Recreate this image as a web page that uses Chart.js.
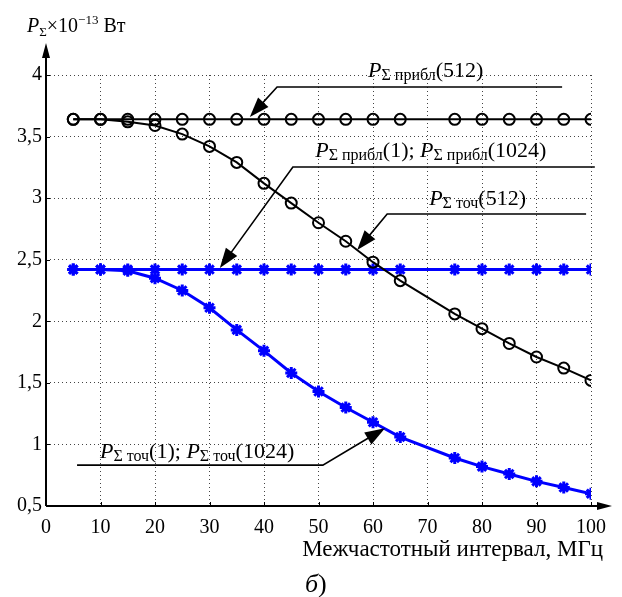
<!DOCTYPE html>
<html>
<head>
<meta charset="utf-8">
<script src="https://cdn.jsdelivr.net/npm/chart.js@4.4.0/dist/chart.umd.min.js"></script>
<style>
    html, body { margin: 0; padding: 0; background: #fff; }
</style>
</head>
<body>
<canvas id="powerChart" width="622" height="597"></canvas>
<script>
// Frequency spacing, MHz (no point at 70)
const spacing = [5, 10, 15, 20, 25, 30, 35, 40, 45, 50, 55, 60, 65, 75, 80, 85, 90, 95, 100];

// P_Σ x 1e-13 W
const approx512 = [3.64, 3.64, 3.64, 3.64, 3.64, 3.64, 3.64, 3.64, 3.64, 3.64, 3.64, 3.64, 3.64, 3.64, 3.64, 3.64, 3.64, 3.64, 3.64];
const approx1024 = [3.64, 3.64, 3.62, 3.59, 3.52, 3.42, 3.29, 3.12, 2.96, 2.80, 2.65, 2.48, 2.33, 2.06, 1.94, 1.82, 1.71, 1.62, 1.52];
const exact512 = [2.42, 2.42, 2.42, 2.42, 2.42, 2.42, 2.42, 2.42, 2.42, 2.42, 2.42, 2.42, 2.42, 2.42, 2.42, 2.42, 2.42, 2.42, 2.42];
const exact1024 = [2.42, 2.42, 2.41, 2.35, 2.25, 2.11, 1.93, 1.76, 1.58, 1.43, 1.30, 1.18, 1.06, 0.89, 0.82, 0.76, 0.70, 0.65, 0.60];

const xTicks = [0, 10, 20, 30, 40, 50, 60, 70, 80, 90, 100];
const yTicks = [0.5, 1, 1.5, 2, 2.5, 3, 3.5, 4];

const SERIF = '"Liberation Serif", "DejaVu Serif", serif';
const BIG = '22px ' + SERIF;
const BIG_I = 'italic 22px ' + SERIF;
const SUB = '16px ' + SERIF;

function pts(ys) {
    return spacing.map((x, i) => ({ x: x, y: ys[i] }));
}

// callout labels, leader lines in data units
function sumLabel(kind, n) {
    return [
        { t: 'P', f: BIG_I },
        { t: 'Σ ' + kind, f: SUB, dy: 3 },
        { t: '(' + n + ')', f: BIG }
    ];
}
const callouts = [
    { at: [59.1, 3.984], text: sumLabel('прибл', '512'),
      path: [[94.7, 3.903], [42.4, 3.903], [37.4, 3.659]] },
    { at: [49.4, 3.336], text: sumLabel('прибл', '1').concat([{ t: '; ', f: BIG }], sumLabel('прибл', '1024')),
      path: [[100.7, 3.253], [45.3, 3.253], [31.9, 2.432]] },
    { at: [70.3, 2.944], text: sumLabel('точ', '512'),
      path: [[99.1, 2.871], [62.6, 2.871], [57.1, 2.578]] },
    { at: [9.9, 0.889], text: sumLabel('точ', '1').concat([{ t: '; ', f: BIG }], sumLabel('точ', '1024')),
      path: [[5.7, 0.832], [50.8, 0.832], [62.2, 1.132]] }
];

function drawRich(ctx, parts, x, y) {
    let cx = x;
    parts.forEach(p => {
        ctx.font = p.f;
        ctx.fillText(p.t, cx, y + (p.dy || 0));
        cx += ctx.measureText(p.t).width;
    });
}

function arrowHead(ctx, fx, fy, tx, ty, len, half) {
    const a = Math.atan2(ty - fy, tx - fx);
    ctx.beginPath();
    ctx.moveTo(tx, ty);
    ctx.lineTo(tx - len * Math.cos(a) + half * Math.sin(a), ty - len * Math.sin(a) - half * Math.cos(a));
    ctx.lineTo(tx - len * Math.cos(a) - half * Math.sin(a), ty - len * Math.sin(a) + half * Math.cos(a));
    ctx.closePath();
    ctx.fill();
}

const decor = {
    id: 'decor',
    afterDraw(chart) {
        const ctx = chart.ctx;
        const area = chart.chartArea;
        const sx = chart.scales.x, sy = chart.scales.y;
        ctx.save();
        ctx.fillStyle = '#000';
        ctx.strokeStyle = '#000';

        // axes with arrows
        ctx.lineWidth = 2;
        ctx.beginPath();
        ctx.moveTo(area.left, area.bottom);
        ctx.lineTo(area.left, area.top - 26);
        ctx.moveTo(area.left, area.bottom);
        ctx.lineTo(area.right + 10, area.bottom);
        ctx.stroke();
        arrowHead(ctx, area.left, area.bottom, area.left, area.top - 32, 15, 4);
        arrowHead(ctx, area.left, area.bottom, area.right + 21, area.bottom, 15, 4);

        // small inward ticks
        ctx.lineWidth = 1;
        ctx.beginPath();
        xTicks.forEach(v => {
            const px = Math.round(sx.getPixelForValue(v)) + 0.5;
            ctx.moveTo(px, area.bottom);
            ctx.lineTo(px, area.bottom - 4);
        });
        yTicks.forEach(v => {
            const py = Math.round(sy.getPixelForValue(v)) + 0.5;
            ctx.moveTo(area.left, py);
            ctx.lineTo(area.left + 4, py);
        });
        ctx.stroke();

        // callouts
        ctx.textBaseline = 'alphabetic';
        ctx.textAlign = 'left';
        callouts.forEach(c => {
            drawRich(ctx, c.text, sx.getPixelForValue(c.at[0]), sy.getPixelForValue(c.at[1]));
            const p = c.path.map(q => [sx.getPixelForValue(q[0]), sy.getPixelForValue(q[1])]);
            ctx.lineWidth = 1.6;
            ctx.beginPath();
            ctx.moveTo(p[0][0], p[0][1]);
            for (let i = 1; i < p.length - 1; i++) ctx.lineTo(p[i][0], p[i][1]);
            const n = p.length;
            const a = Math.atan2(p[n - 1][1] - p[n - 2][1], p[n - 1][0] - p[n - 2][0]);
            ctx.lineTo(p[n - 1][0] - 12 * Math.cos(a), p[n - 1][1] - 12 * Math.sin(a));
            ctx.stroke();
            arrowHead(ctx, p[n - 2][0], p[n - 2][1], p[n - 1][0], p[n - 1][1], 20, 7);
        });

        // y-axis title
        drawRich(ctx, [
            { t: 'P', f: 'italic 20px ' + SERIF },
            { t: 'Σ', f: '13px ' + SERIF, dy: 4 },
            { t: '×10', f: '20px ' + SERIF },
            { t: '−13', f: '13px ' + SERIF, dy: -8 },
            { t: ' Вт', f: '20px ' + SERIF }
        ], area.left - 19, area.top - 43);

        // x-axis title and panel letter
        ctx.textAlign = 'right';
        ctx.font = '23px ' + SERIF;
        ctx.fillText('Межчастотный интервал, МГц', area.right + 12, area.bottom + 50);
        ctx.textAlign = 'left';
        drawRich(ctx, [
            { t: 'б', f: 'italic 26px ' + SERIF },
            { t: ')', f: '26px ' + SERIF }
        ], 305, area.bottom + 86);
        ctx.restore();
    }
};

const gridStyle = { color: '#444', lineWidth: 1, drawTicks: false };
const tickFont = { family: SERIF, size: 20 };

new Chart(document.getElementById('powerChart'), {
    type: 'line',
    data: {
        datasets: [
            {
                label: 'approx512',
                data: pts(approx512),
                borderColor: '#000',
                borderWidth: 2,
                pointStyle: 'circle',
                pointRadius: 5.5,
                pointBorderWidth: 2,
                pointBorderColor: '#000',
                pointBackgroundColor: 'rgba(0,0,0,0)',
                order: 1
            },
            {
                label: 'approx1024',
                data: pts(approx1024),
                borderColor: '#000',
                borderWidth: 2,
                pointStyle: 'circle',
                pointRadius: 5.5,
                pointBorderWidth: 2,
                pointBorderColor: '#000',
                pointBackgroundColor: 'rgba(0,0,0,0)',
                order: 1
            },
            {
                label: 'exact512',
                data: pts(exact512),
                borderColor: '#0000ff',
                borderWidth: 3,
                pointStyle: 'star',
                pointRadius: 6,
                pointBorderWidth: 3,
                pointBorderColor: '#0000ff',
                order: 2
            },
            {
                label: 'exact1024',
                data: pts(exact1024),
                borderColor: '#0000ff',
                borderWidth: 3,
                pointStyle: 'star',
                pointRadius: 6,
                pointBorderWidth: 3,
                pointBorderColor: '#0000ff',
                order: 2
            }
        ]
    },
    options: {
        responsive: false,
        devicePixelRatio: 1,
        animation: false,
        layout: { padding: { left: 0, top: 75, right: 31, bottom: 51 } },
        plugins: { legend: { display: false }, tooltip: { enabled: false } },
        scales: {
            x: {
                type: 'linear',
                min: 0,
                max: 100,
                afterBuildTicks: s => { s.ticks = xTicks.map(v => ({ value: v })); },
                afterFit: s => { s.height = 40; },
                ticks: { color: '#000', font: tickFont, padding: 10, maxRotation: 0 },
                grid: gridStyle,
                border: { display: false, dash: [1, 3] }
            },
            y: {
                min: 0.5,
                max: 4,
                afterBuildTicks: s => { s.ticks = yTicks.map(v => ({ value: v })); },
                afterFit: s => { s.width = 46; },
                ticks: {
                    color: '#000',
                    font: tickFont,
                    padding: 4,
                    callback: v => String(v).replace('.', ',')
                },
                grid: gridStyle,
                border: { display: false, dash: [1, 3] }
            }
        }
    },
    plugins: [decor]
});
</script>
</body>
</html>
